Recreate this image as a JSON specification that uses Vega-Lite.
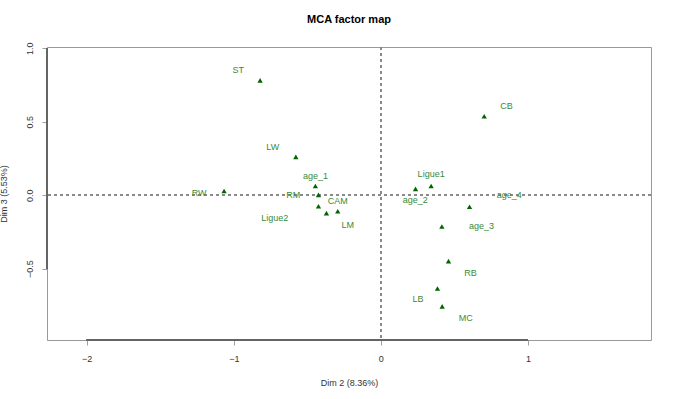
{
  "$schema": "https://vega.github.io/schema/vega-lite/v6.json",
  "autosize": {"type": "none"},
  "padding": {"left": 47, "top": 47, "right": 24, "bottom": 59},
  "width": 604,
  "height": 293,
  "background": "white",
  "title": {"text": "MCA factor map", "font": "Liberation Sans", "fontSize": 11, "fontWeight": "bold", "color": "#000000", "offset": 17, "anchor": "middle"},
  "config": {
    "view": {"stroke": "#999999", "strokeWidth": 1},
    "axis": {"labelFont": "Liberation Sans", "titleFont": "Liberation Sans", "labelFontSize": 9, "titleFontSize": 9, "titleFontWeight": "normal", "labelColor": "#333333", "titleColor": "#333333", "grid": false, "domain": false, "tickColor": "#888888", "tickSize": 5, "tickWidth": 0.8}
  },
  "data": {
    "values": [
      {"label": "ST", "x": -0.821, "y": 0.782, "lx": -0.969, "ly": 0.850},
      {"label": "LW", "x": -0.578, "y": 0.261, "lx": -0.735, "ly": 0.329},
      {"label": "RW", "x": -1.066, "y": 0.029, "lx": -1.236, "ly": 0.018},
      {"label": "RM", "x": -0.424, "y": 0.002, "lx": -0.595, "ly": 0.0},
      {"label": "Ligue2", "x": -0.424, "y": -0.075, "lx": -0.721, "ly": -0.152},
      {"label": "age_1", "x": -0.445, "y": 0.063, "lx": -0.445, "ly": 0.134},
      {"label": "CAM", "x": -0.293, "y": -0.109, "lx": -0.293, "ly": -0.041},
      {"label": "LM", "x": -0.37, "y": -0.122, "lx": -0.225, "ly": -0.204},
      {"label": "Ligue1", "x": 0.342, "y": 0.063, "lx": 0.342, "ly": 0.141},
      {"label": "age_2", "x": 0.236, "y": 0.043, "lx": 0.234, "ly": -0.034},
      {"label": "age_4", "x": 0.603, "y": -0.079, "lx": 0.873, "ly": 0.0},
      {"label": "CB", "x": 0.703, "y": 0.537, "lx": 0.854, "ly": 0.610},
      {"label": "age_3", "x": 0.415, "y": -0.213, "lx": 0.684, "ly": -0.213},
      {"label": "RB", "x": 0.46, "y": -0.449, "lx": 0.609, "ly": -0.531},
      {"label": "LB", "x": 0.385, "y": -0.635, "lx": 0.252, "ly": -0.709},
      {"label": "MC", "x": 0.417, "y": -0.757, "lx": 0.578, "ly": -0.833}
    ]
  },
  "layer": [
    {
      "mark": {"type": "rule", "color": "#8a8a8a", "strokeDash": [3, 3], "strokeWidth": 0.8},
      "encoding": {"x": {"datum": 0, "type": "quantitative", "scale": {"domain": [-2.27, 1.837], "nice": false, "zero": false}}}
    },
    {
      "mark": {"type": "rule", "color": "#8a8a8a", "strokeDash": [3, 3], "strokeWidth": 0.8},
      "encoding": {"y": {"datum": 0, "type": "quantitative", "scale": {"domain": [-0.986, 1.009], "nice": false, "zero": false}}}
    },
    {
      "mark": {"type": "rule", "color": "#666666", "strokeWidth": 0.8},
      "encoding": {
        "x": {"datum": -2, "type": "quantitative"},
        "x2": {"datum": 1},
        "y": {"datum": -0.986, "type": "quantitative"}
      }
    },
    {
      "mark": {"type": "rule", "color": "#666666", "strokeWidth": 0.8},
      "encoding": {
        "y": {"datum": -0.5, "type": "quantitative"},
        "y2": {"datum": 1},
        "x": {"datum": -2.27, "type": "quantitative"}
      }
    },
    {
      "mark": {"type": "point", "shape": "triangle-up", "filled": true, "color": "#006400", "opacity": 1, "size": 28},
      "encoding": {
        "x": {"field": "x", "type": "quantitative", "title": "Dim 2 (8.36%)", "axis": {"values": [-2, -1, 0, 1], "format": "d", "labelPadding": 9, "titleY": 38}},
        "y": {"field": "y", "type": "quantitative", "title": "Dim 3 (5.53%)", "axis": {"values": [-0.5, 0, 0.5, 1], "format": ".1f", "labelAngle": -90, "labelAlign": "center", "labelBaseline": "bottom", "labelPadding": 8, "titleX": -39}}
      }
    },
    {
      "mark": {"type": "text", "color": "#3a8a3a", "font": "Liberation Sans", "fontSize": 9, "align": "center", "baseline": "middle"},
      "encoding": {
        "x": {"field": "lx", "type": "quantitative"},
        "y": {"field": "ly", "type": "quantitative"},
        "text": {"field": "label"}
      }
    }
  ]
}
